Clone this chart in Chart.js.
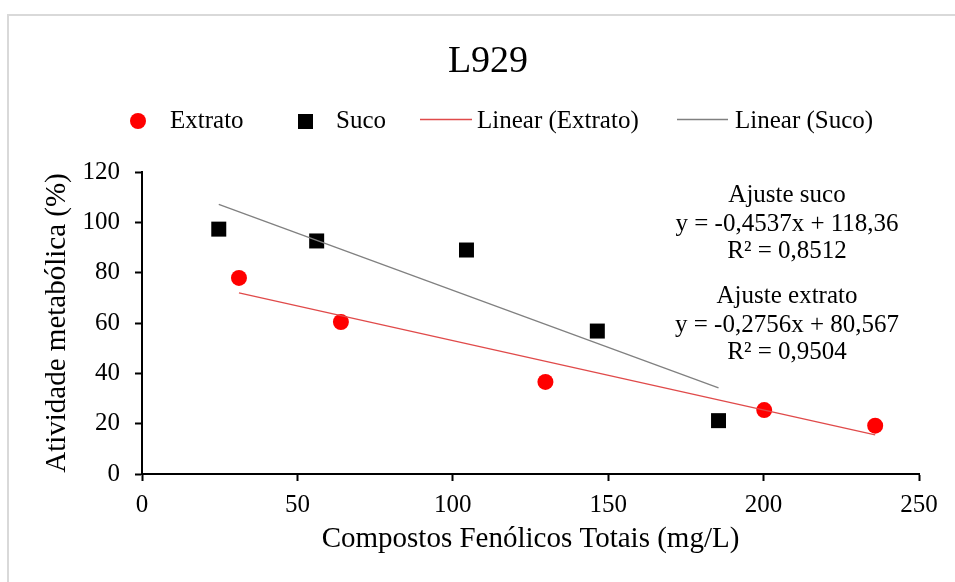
<!DOCTYPE html>
<html>
<head>
<meta charset="utf-8">
<script src="https://cdn.jsdelivr.net/npm/chart.js@4.4.1/dist/chart.umd.min.js"></script>
<style>
  html, body { margin: 0; padding: 0; background: #fff; overflow: hidden; }
  #frame { position: absolute; left: 7px; top: 14px; width: 1000px; height: 1000px; border: 2px solid #d9d9d9; box-sizing: border-box; }
  #wrap { position: absolute; left: 0; top: 0; width: 955px; height: 582px; }
</style>
</head>
<body>
<div id="frame"></div>
<div id="wrap"><canvas id="chart"></canvas></div>
<script>
// data
const extratoX = [31.2, 64.0, 129.8, 200.2, 235.9];
const extratoY = [77.9, 60.4, 36.6, 25.4, 19.2];
const sucoX = [24.7, 56.2, 104.4, 146.5, 185.5];
const sucoY = [97.3, 92.6, 89.0, 56.8, 21.2];

// trendline coefficients as printed on the chart
const sucoFit = [-0.4537, 118.36];
const extratoFit = [-0.2756, 80.567];

const xTicks = [0, 50, 100, 150, 200, 250];
const yTicks = [0, 20, 40, 60, 80, 100, 120];

const sucoNotes = ['Ajuste suco', 'y = -0,4537x + 118,36', 'R² = 0,8512'];
const extratoNotes = ['Ajuste extrato', 'y = -0,2756x + 80,567', 'R² = 0,9504'];

const FONT = '"Liberation Serif", "Times New Roman", serif';

function pts(xs, ys) {
    return xs.map((x, i) => ({ x: x, y: ys[i] }));
}

function trend(xs, fit) {
    const lo = Math.min(...xs), hi = Math.max(...xs);
    return [{ x: lo, y: fit[0] * lo + fit[1] }, { x: hi, y: fit[0] * hi + fit[1] }];
}

// title, legend and fit notes
const decor = {
    id: 'decor',
    afterDraw(chart) {
        const ctx = chart.ctx;
        ctx.save();
        ctx.fillStyle = '#000';
        ctx.textBaseline = 'alphabetic';

        ctx.font = '38px ' + FONT;
        ctx.textAlign = 'center';
        ctx.fillText('L929', 488, 72);

        // legend
        ctx.font = '25px ' + FONT;
        ctx.textAlign = 'left';
        ctx.fillStyle = '#ff0000';
        ctx.beginPath();
        ctx.arc(138, 121, 8, 0, Math.PI * 2);
        ctx.fill();
        ctx.fillStyle = '#000';
        ctx.fillText('Extrato', 170, 128);
        ctx.fillRect(298, 114, 15, 15);
        ctx.fillText('Suco', 336, 128);
        ctx.lineWidth = 1.3;
        ctx.strokeStyle = '#e04a4a';
        ctx.beginPath(); ctx.moveTo(420, 119.5); ctx.lineTo(472, 119.5); ctx.stroke();
        ctx.fillText('Linear (Extrato)', 477, 128);
        ctx.strokeStyle = '#808080';
        ctx.beginPath(); ctx.moveTo(677, 119.5); ctx.lineTo(728, 119.5); ctx.stroke();
        ctx.fillText('Linear (Suco)', 735, 128);

        // fit notes
        ctx.textAlign = 'center';
        const lines = [202, 231, 258, 303, 332, 359];
        sucoNotes.concat(extratoNotes).forEach((t, i) => ctx.fillText(t, 787, lines[i]));
        ctx.restore();
    }
};

new Chart(document.getElementById('chart'), {
    type: 'scatter',
    data: {
        datasets: [{
            label: 'Linear (Extrato)',
            data: trend(extratoX, extratoFit),
            showLine: true,
            borderColor: '#e04a4a',
            borderWidth: 1.3,
            pointRadius: 0,
            order: 0
        }, {
            label: 'Linear (Suco)',
            data: trend(sucoX, sucoFit),
            showLine: true,
            borderColor: '#808080',
            borderWidth: 1.3,
            pointRadius: 0,
            order: 0
        }, {
            label: 'Extrato',
            data: pts(extratoX, extratoY),
            pointStyle: 'circle',
            pointRadius: 8,
            backgroundColor: '#ff0000',
            borderWidth: 0,
            order: 1
        }, {
            label: 'Suco',
            data: pts(sucoX, sucoY),
            pointStyle: 'rect',
            pointRadius: 10.6,
            backgroundColor: '#000000',
            borderWidth: 0,
            order: 1
        }]
    },
    options: {
        responsive: true,
        maintainAspectRatio: false,
        animation: false,
        layout: { padding: { left: 20, top: 172, right: 36, bottom: 20 } },
        plugins: {
            legend: { display: false },
            title: { display: false },
            tooltip: { enabled: false }
        },
        scales: {
            x: {
                type: 'linear',
                min: 0, max: 250,
                afterBuildTicks: s => { s.ticks = xTicks.map(v => ({ value: v })); },
                afterFit: s => { s.height = 88; },
                grid: { drawOnChartArea: false, drawTicks: true, tickLength: 7, tickColor: '#000', tickWidth: 2 },
                border: { color: '#000', width: 2 },
                ticks: { color: '#000', font: { family: FONT, size: 25 }, padding: 9, maxRotation: 0 },
                title: { display: true, text: 'Compostos Fenólicos Totais (mg/L)', color: '#000', font: { family: FONT, size: 29 }, padding: { top: 0, bottom: 5 } }
            },
            y: {
                type: 'linear',
                min: 0, max: 120,
                afterBuildTicks: s => { s.ticks = yTicks.map(v => ({ value: v })); },
                afterFit: s => { s.width = 122; },
                grid: { drawOnChartArea: false, drawTicks: true, tickLength: 7, tickColor: '#000', tickWidth: 2 },
                border: { color: '#000', width: 2 },
                ticks: { color: '#000', font: { family: FONT, size: 25 }, padding: 15 },
                title: { display: true, text: 'Atividade metabólica (%)', color: '#000', font: { family: FONT, size: 29 }, padding: { top: 20, bottom: 0 } }
            }
        }
    },
    plugins: [decor]
});
</script>
</body>
</html>
